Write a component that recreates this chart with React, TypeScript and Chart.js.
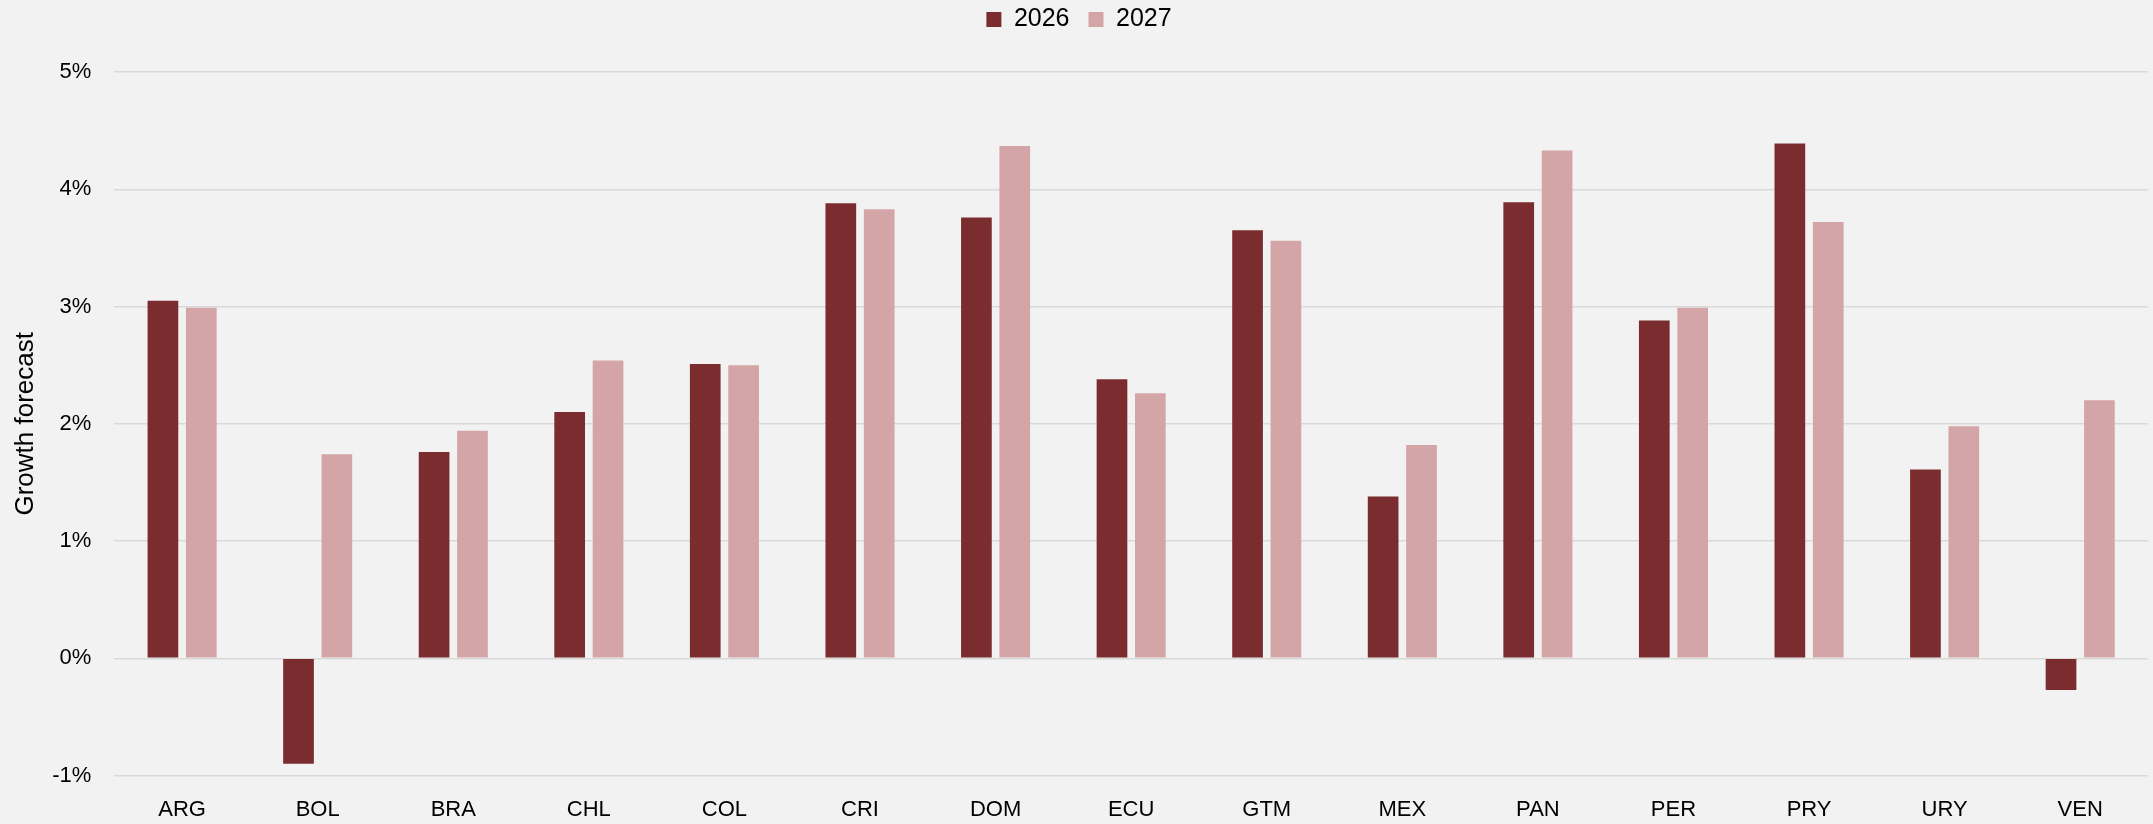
import React, { useEffect, useRef } from "react";
import { Chart, registerables } from "chart.js";

Chart.register(...registerables);

const categories = ["ARG", "BOL", "BRA", "CHL", "COL", "CRI", "DOM", "ECU", "GTM", "MEX", "PAN", "PER", "PRY", "URY", "VEN"];
const values2026 = [3.05, -0.9, 1.76, 2.1, 2.51, 3.88, 3.76, 2.38, 3.65, 1.38, 3.89, 2.88, 4.39, 1.61, -0.27];
const values2027 = [2.99, 1.74, 1.94, 2.54, 2.5, 3.83, 4.37, 2.26, 3.56, 1.82, 4.33, 2.99, 3.72, 1.98, 2.2];
const seriesNames = ["2026", "2027"];
const yMin = -1;
const yMax = 5;
const yStep = 1;
const yTitle = "Growth forecast";

const FONT = "'Liberation Sans', Arial, sans-serif";

export default function App() {
  const ref = useRef<HTMLCanvasElement | null>(null);

  useEffect(() => {
    if (!ref.current) return;
    const legendMargin = {
      id: "legendMargin",
      beforeInit(chart: any) {
        const legend = chart.legend;
        if (!legend) return;
        const orig = legend.fit;
        legend.fit = function () {
          orig.call(this);
          this.height += 30;
        };
      },
    };
    const chart = new Chart(ref.current, {
      type: "bar",
      data: {
        labels: categories,
        datasets: [
          {
            label: seriesNames[0],
            data: values2026,
            backgroundColor: "#7b2c2e",
            borderWidth: 0,
            categoryPercentage: 0.566,
            barPercentage: 0.8,
          },
          {
            label: seriesNames[1],
            data: values2027,
            backgroundColor: "#d4a5a6",
            borderWidth: 0,
            categoryPercentage: 0.566,
            barPercentage: 0.8,
          },
        ],
      },
      options: {
        responsive: false,
        animation: false,
        devicePixelRatio: 1,
        layout: { padding: { left: 10, right: 5, top: -12, bottom: 1 } },
        plugins: {
          legend: {
            display: true,
            position: "top",
            labels: {
              font: { family: FONT, size: 25 },
              color: "#000",
              boxWidth: 15,
              boxHeight: 15,
              padding: 19,
            },
          },
          tooltip: { enabled: false },
        },
        scales: {
          x: {
            grid: {
              display: true,
              drawOnChartArea: false,
              drawTicks: true,
              tickLength: 21,
              tickColor: "rgba(0,0,0,0)",
              color: "rgba(0,0,0,0)",
            },
            border: { display: false },
            ticks: {
              font: { family: FONT, size: 22 },
              color: "#000",
              padding: 0,
            },
          },
          y: {
            min: yMin,
            max: yMax,
            ticks: {
              stepSize: yStep,
              font: { family: FONT, size: 22 },
              color: "#000",
              padding: 0,
              callback: (v: any) => `${v}%`,
            },
            grid: {
              color: "#d9d9d9",
              lineWidth: 1.5,
              drawTicks: true,
              tickLength: 23,
              tickColor: "rgba(0,0,0,0)",
            },
            border: { display: false },
            title: {
              display: true,
              text: yTitle,
              font: { family: FONT, size: 26 },
              color: "#000",
              padding: { top: 0, bottom: 11 },
            },
          },
        },
      },
      plugins: [legendMargin],
    });
    return () => chart.destroy();
  }, []);

  return (
    <div style={{ position: "absolute", left: 0, top: 0, width: 2153, height: 824, background: "#f2f2f2" }}>
      <canvas ref={ref} width={2153} height={824} style={{ display: "block" }} />
    </div>
  );
}
